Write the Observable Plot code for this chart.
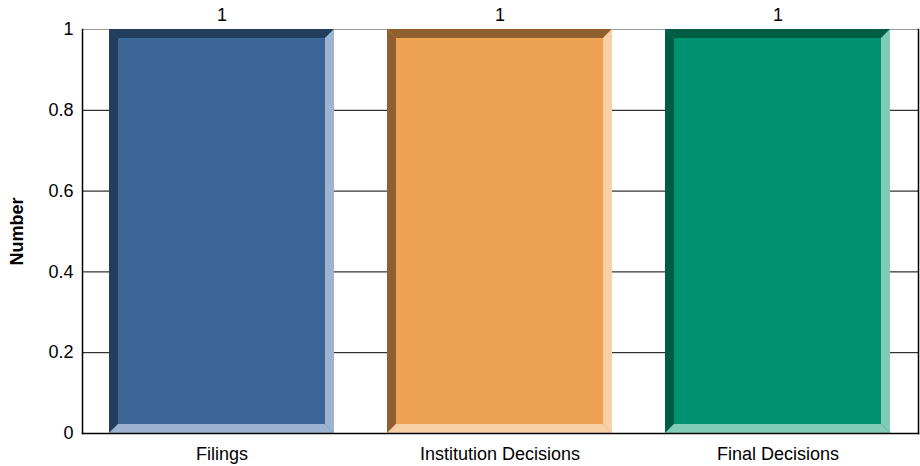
<!DOCTYPE html>
<html>
<head>
<meta charset="utf-8">
<script src="https://cdn.jsdelivr.net/npm/d3@7"></script>
<script src="https://cdn.jsdelivr.net/npm/@observablehq/plot@0.6"></script>
<style>
  html, body { margin: 0; padding: 0; background: #fff; }
  svg { font-family: "Liberation Sans", Arial, sans-serif; }
</style>
</head>
<body>
<div id="chart"></div>
<script>
const categories = ["Filings", "Institution Decisions", "Final Decisions"];
const values = [1, 1, 1];
const faceColors = ["#3B6595", "#EEA352", "#009170"];
const darkColors = ["#233D5C", "#8F5F30", "#005C44"];
const lightColors = ["#9DB3CF", "#F8D0A5", "#82CCB6"];
const yTicks = [0, 0.2, 0.4, 0.6, 0.8, 1];

const data = categories.map((c, i) => ({
  category: c, value: values[i],
  face: faceColors[i], dark: darkColors[i], light: lightColors[i]
}));

const bevel = 9;

function beveledBars(index, scales, vals, dims) {
  const ns = "http://www.w3.org/2000/svg";
  const g = document.createElementNS(ns, "g");
  const bw = scales.x.bandwidth();
  for (const i of index) {
    const d = data[i];
    const x0 = scales.x(d.category), x1 = x0 + bw;
    const yT = scales.y(d.value), yB = scales.y(0);
    const b = bevel;
    const polys = [
      [d.face, [[x0, yT], [x1, yT], [x1, yB], [x0, yB]]],
      [d.dark, [[x0, yT], [x1, yT], [x1 - b, yT + b], [x0 + b, yT + b]]],
      [d.dark, [[x0, yT], [x0 + b, yT + b], [x0 + b, yB - b], [x0, yB]]],
      [d.light, [[x1, yT], [x1, yB], [x1 - b, yB - b], [x1 - b, yT + b]]],
      [d.light, [[x0, yB], [x1, yB], [x1 - b, yB - b], [x0 + b, yB - b]]]
    ];
    for (const [fill, pts] of polys) {
      const p = document.createElementNS(ns, "polygon");
      p.setAttribute("points", pts.map(q => q.join(",")).join(" "));
      p.setAttribute("fill", fill);
      g.appendChild(p);
    }
  }
  return g;
}

const chart = Plot.plot({
  width: 920,
  height: 466,
  marginLeft: 82,
  marginRight: 2,
  marginTop: 29,
  marginBottom: 33,
  style: { fontFamily: "Liberation Sans, Arial, sans-serif", fontSize: "18px", color: "#000", background: "#fff" },
  x: { domain: categories, paddingInner: 0.19, paddingOuter: 0.095, label: null },
  y: { domain: [0, 1], ticks: yTicks, label: null },
  marks: [
    Plot.ruleY(yTicks, { stroke: "#000", strokeWidth: 1 }),
    Plot.ruleY([1], { stroke: "#999", strokeWidth: 1 }),
    Plot.barY(data, { x: "category", y: "value", fill: "face", render: beveledBars }),
    Plot.frame({ anchor: "left", stroke: "#000", strokeWidth: 1.5 }),
    Plot.frame({ anchor: "right", stroke: "#000", strokeWidth: 1.5 }),
    Plot.frame({ anchor: "bottom", stroke: "#000", strokeWidth: 1.5 }),
    Plot.axisY({ ticks: yTicks, tickSize: 0, tickPadding: 9, tickFormat: d => String(d), fontSize: 18, label: null }),
    Plot.axisX({ tickSize: 0, tickPadding: 14, fontSize: 18, label: null }),
    Plot.text(data, { x: "category", y: "value", text: d => String(d.value), dy: -14, fontSize: 18, fill: "#000" }),
    Plot.text(["Number"], { frameAnchor: "left", textAnchor: "middle", dx: -65, rotate: -90, fontWeight: "bold", fontSize: 18, fill: "#000" })
  ]
});

document.getElementById("chart").appendChild(chart);
</script>
</body>
</html>
